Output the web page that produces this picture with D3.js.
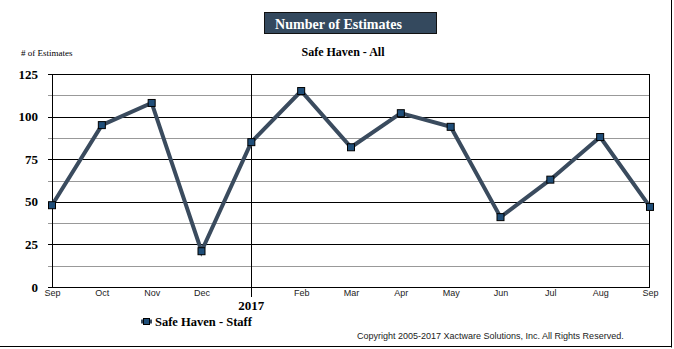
<!DOCTYPE html>
<html><head><meta charset="utf-8">
<script src="https://cdn.jsdelivr.net/npm/d3@7"></script>
<style>html,body{margin:0;padding:0;background:#fff;}svg{display:block;}</style>
</head><body>
<script>
const months = ["Sep","Oct","Nov","Dec","Jan","Feb","Mar","Apr","May","Jun","Jul","Aug","Sep"];
const tickLabels = ["Sep","Oct","Nov","Dec","","Feb","Mar","Apr","May","Jun","Jul","Aug","Sep"];
const values = [48,95,108,21,85,115,82,102,94,41,63,88,47];
const yTicks = [0,25,50,75,100,125];
const yMinor = [12.5,37.5,62.5,87.5,112.5];
const yearLabel = "2017";
const seriesName = "Safe Haven - Staff";
const title = "Number of Estimates";
const subtitle = "Safe Haven - All";
const yTitle = "# of Estimates";
const copyright = "Copyright 2005-2017 Xactware Solutions, Inc. All Rights Reserved.";

const W=674,H=349;
const L=52,R=650,T=74,B=287;
const svg=d3.select("body").append("svg").attr("width",W).attr("height",H);
const serif="'Liberation Serif','Times New Roman',serif";
const sans="'Liberation Sans',Arial,sans-serif";

const x=d3.scalePoint().domain(d3.range(months.length)).range([L,R]);
const y=d3.scaleLinear().domain([0,125]).range([B,T]);

// outer frame (right/bottom)
svg.append("line").attr("x1",671.5).attr("x2",671.5).attr("y1",0).attr("y2",347.5).attr("stroke","#000").attr("stroke-width",1);
svg.append("line").attr("x1",0).attr("x2",672).attr("y1",346.5).attr("y2",346.5).attr("stroke","#000").attr("stroke-width",1);

// title box
svg.append("rect").attr("x",264.5).attr("y",12.5).attr("width",172).attr("height",21)
  .attr("fill","#34495e").attr("stroke","#111").attr("stroke-width",1);
svg.append("text").attr("x",275).attr("y",28.5).attr("fill","#fff")
  .attr("font-family",serif).attr("font-weight","bold").attr("font-size",15)
  .attr("textLength",127).attr("lengthAdjust","spacingAndGlyphs").text(title);
svg.append("text").attr("x",343).attr("y",56).attr("text-anchor","middle")
  .attr("font-family",serif).attr("font-weight","bold").attr("font-size",12).text(subtitle);
svg.append("text").attr("x",21).attr("y",56)
  .attr("font-family",serif).attr("font-size",9).text(yTitle);

// minor grid
svg.append("g").selectAll("line").data(yMinor).join("line")
  .attr("x1",L-4).attr("x2",R).attr("y1",d=>Math.round(y(d))+0.5).attr("y2",d=>Math.round(y(d))+0.5)
  .attr("stroke","#999").attr("stroke-width",1);
// major grid
svg.append("g").selectAll("line").data(yTicks).join("line")
  .attr("x1",L-4).attr("x2",R).attr("y1",d=>Math.round(y(d))+0.5).attr("y2",d=>Math.round(y(d))+0.5)
  .attr("stroke","#000").attr("stroke-width",1);

// y axis labels
const yAxis=d3.axisLeft(y).tickValues(yTicks).tickSize(0).tickPadding(0);
const gy=svg.append("g").attr("transform",`translate(${L-14},0)`).call(yAxis);
gy.select(".domain").remove();
gy.selectAll("text").attr("font-family",serif).attr("font-weight","bold").attr("font-size",13).attr("fill","#000");

// plot frame
svg.append("rect").attr("x",L+0.5).attr("y",T+0.5).attr("width",R-L-1).attr("height",B-T)
  .attr("fill","none").attr("stroke","#000").attr("stroke-width",1);

// year divider
svg.append("line").attr("x1",Math.round(x(4))+0.5).attr("x2",Math.round(x(4))+0.5).attr("y1",T).attr("y2",297)
  .attr("stroke","#000").attr("stroke-width",1);

// x axis labels
const xAxis=d3.axisBottom(x).tickFormat(i=>tickLabels[i]).tickSize(0).tickPadding(3);
const gx=svg.append("g").attr("transform",`translate(0,${B})`).call(xAxis);
gx.select(".domain").remove();
gx.selectAll("text").attr("font-family",sans).attr("font-size",9).attr("fill","#222");

svg.append("text").attr("x",x(4)).attr("y",310).attr("text-anchor","middle")
  .attr("font-family",serif).attr("font-weight","bold").attr("font-size",13).text(yearLabel);

// line
const line=d3.line().x((d,i)=>x(i)).y(d=>y(d));
svg.append("path").datum(values).attr("d",line).attr("fill","none")
  .attr("stroke","#3a4b5e").attr("stroke-width",4).attr("stroke-linejoin","miter");
svg.append("g").selectAll("rect").data(values).join("rect")
  .attr("x",(d,i)=>x(i)-3.5).attr("y",d=>y(d)-3.5).attr("width",7).attr("height",7)
  .attr("fill","#1f4e79").attr("stroke","#000").attr("stroke-width",1);

// legend
svg.append("line").attr("x1",141).attr("x2",152).attr("y1",321.5).attr("y2",321.5)
  .attr("stroke","#3a4b5e").attr("stroke-width",4);
svg.append("rect").attr("x",143.5).attr("y",318.5).attr("width",6).attr("height",6)
  .attr("fill","#1f4e79").attr("stroke","#000").attr("stroke-width",1);
svg.append("text").attr("x",155).attr("y",326).attr("font-family",serif).attr("font-weight","bold")
  .attr("font-size",12.5).text(seriesName);

svg.append("text").attr("x",357).attr("y",339).attr("font-family",sans).attr("font-size",9).attr("fill","#222").text(copyright);
</script>
</body></html>
